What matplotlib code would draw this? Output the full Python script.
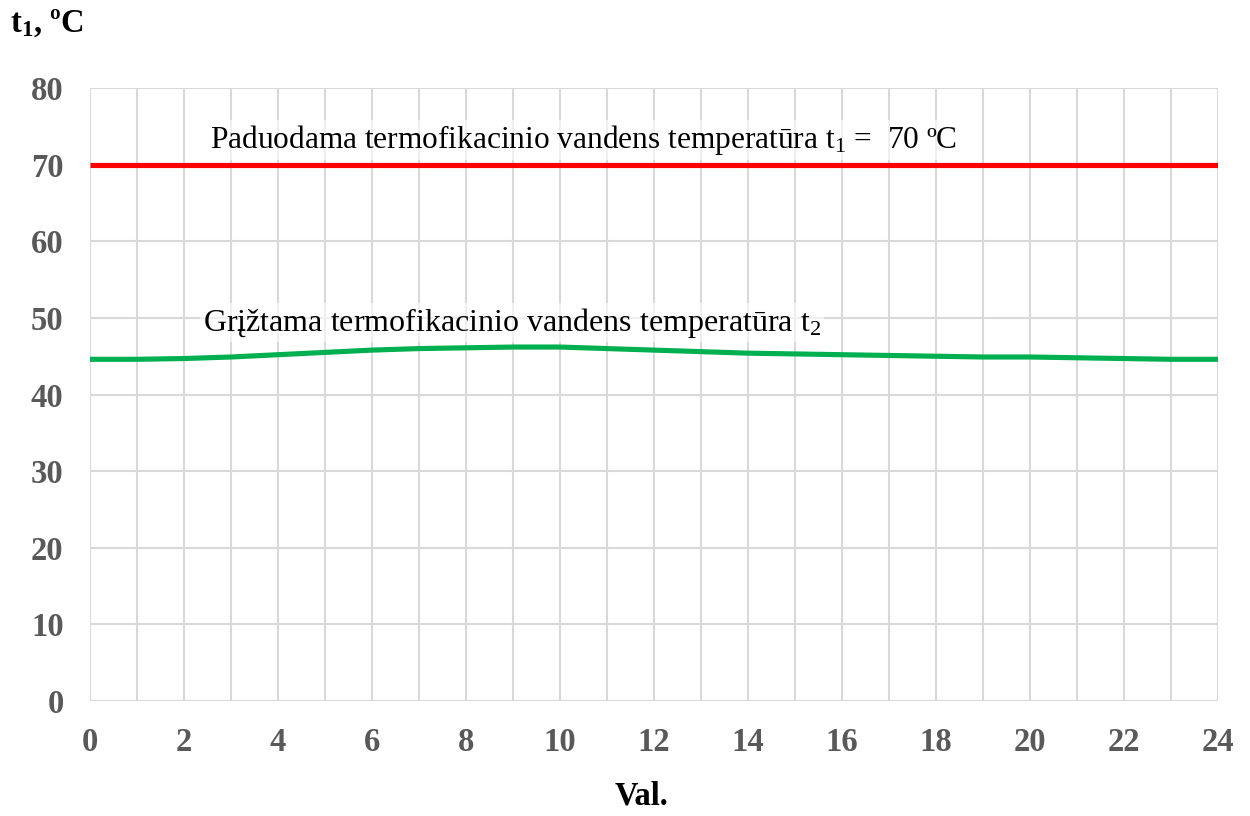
import matplotlib
matplotlib.use("Agg")
import matplotlib.pyplot as plt

plt.rcParams['font.family'] = ['Liberation Serif', 'DejaVu Serif']
plt.rcParams['mathtext.fontset'] = 'custom'
plt.rcParams['mathtext.rm'] = 'Liberation Serif'
plt.rcParams['mathtext.bf'] = 'Liberation Serif:bold'
plt.rcParams['mathtext.it'] = 'Liberation Serif:italic'

hours = list(range(25))
t1_supply = [70] * 25
t2_return = [44.6, 44.6, 44.7, 44.9, 45.2, 45.5, 45.8, 46.0, 46.1, 46.2, 46.2, 46.0,
             45.8, 45.6, 45.4, 45.3, 45.2, 45.1, 45.0, 44.9, 44.9, 44.8, 44.7, 44.6, 44.6]
x_ticks = list(range(0, 25, 2))
y_ticks = list(range(0, 81, 10))

fig = plt.figure(figsize=(12.5, 8.16), dpi=100)
ax = fig.add_axes([0.072, 0.141, 0.9024, 0.751])

ax.set_xlim(0, 24)
ax.set_ylim(0, 80)
ax.set_xticks(range(0, 25, 1), minor=True)
ax.set_xticks(x_ticks)
ax.set_yticks(y_ticks)
ax.grid(True, which='both', color='#d9d9d9', linewidth=1.5, zorder=0)
for s in ax.spines.values():
    s.set_visible(False)
ax.tick_params(which='both', length=0)
ax.tick_params(axis='x', pad=19)
ax.tick_params(axis='y', pad=19)
for lab in ax.get_xticklabels() + ax.get_yticklabels():
    lab.set_fontsize(23.5)
    lab.set_fontweight('bold')
    lab.set_color('#595959')

ax.plot(hours, t1_supply, color='#ff0000', linewidth=3.7, zorder=3, solid_capstyle='butt')
ax.plot(hours, t2_return, color='#00b050', linewidth=3.7, zorder=3, solid_capstyle='round')

box = dict(facecolor='white', edgecolor='none', alpha=0.6, pad=2)
ax.text(2.55, 73.2, r'Paduodama termofikacinio vandens temperatūra $\mathrm{t}_1$ =  70 ºC',
        fontsize=22.6, color='black', va='center', ha='left', bbox=box, zorder=2)
ax.text(2.4, 49.4, r'Grįžtama termofikacinio vandens temperatūra $\mathrm{t}_2$',
        fontsize=23, color='black', va='center', ha='left', bbox=box, zorder=2)

fig.text(0.008, 0.972, r'$\mathbf{t_1}$, ºC', fontsize=23.5, fontweight='bold', va='center', ha='left')
fig.text(0.513, 0.006, 'Val.', fontsize=23.5, fontweight='bold', va='bottom', ha='center')

fig.savefig('out.png', dpi=100)
